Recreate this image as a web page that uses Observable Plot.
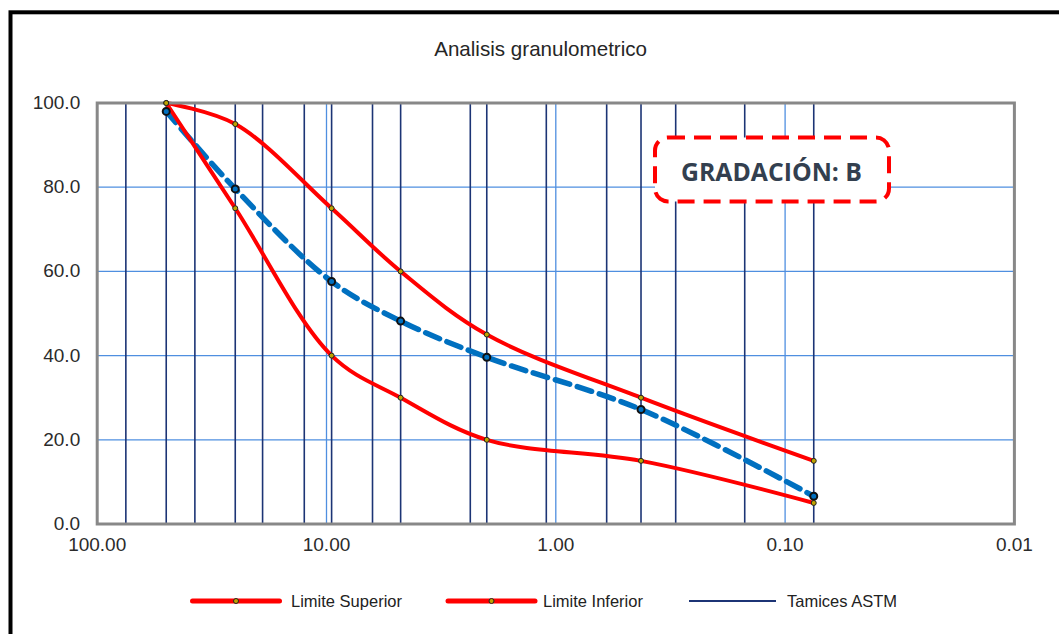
<!DOCTYPE html>
<html>
<head>
<meta charset="utf-8">
<script src="https://cdn.jsdelivr.net/npm/d3@7"></script>
<script src="https://cdn.jsdelivr.net/npm/@observablehq/plot@0.6"></script>
<style>
  html, body { margin: 0; padding: 0; background: #fff; overflow: hidden; }
  #wrap { position: relative; width: 1059px; height: 634px; overflow: hidden; }
  #chart svg { display: block; }
  #overlay { position: absolute; left: 0; top: 0; pointer-events: none; }
</style>
</head>
<body>
<div id="wrap">
  <div id="chart"></div>
  <svg id="overlay" width="1059" height="634"></svg>
</div>
<script>
// ASTM sieve openings (mm) drawn as vertical reference lines
const sieveSizes = [75, 50, 37.5, 25, 19, 12.5, 9.5, 6.3, 4.75, 2.36, 2.0, 1.1, 0.6, 0.425, 0.3, 0.15, 0.075];

// Gradation B band and measured sample (% passing)
const limitSizes = [50, 25, 9.5, 4.75, 2.0, 0.425, 0.075];
const upperLimit = [100, 95, 75, 60, 45, 30, 15];
const lowerLimit = [100, 75, 40, 30, 20, 15, 5];
const passing    = [98.0, 79.6, 57.6, 48.2, 39.6, 27.2, 6.6];

// Axis ticks
const xTicks = [100, 10, 1, 0.1, 0.01];
const yTicks = [0, 20, 40, 60, 80, 100];

const chartTitle = "Analisis granulometrico";
const boxLabel = "GRADACIÓN: B";
const legendItems = [
  {label: "Limite Superior", kind: "limit"},
  {label: "Limite Inferior", kind: "limit"},
  {label: "Tamices ASTM", kind: "sieve"}
];

const RED = "#ff0000";
const NAVY = "#1c3475";
const GRID = "#4f8fe0";
const SAMPLE = "#0070c0";

const rows = (ys) => limitSizes.map((s, i) => ({size: s, value: ys[i]}));
const upperRows = rows(upperLimit);
const lowerRows = rows(lowerLimit);
const sampleRows = rows(passing);

const plot = Plot.plot({
  width: 1059,
  height: 634,
  marginLeft: 96.7,
  marginRight: 45.1,
  marginTop: 102.5,
  marginBottom: 110.5,
  style: {fontFamily: "'Liberation Sans', Arial, sans-serif", fontSize: "19px", color: "#2b2b2b", background: "transparent"},
  x: {type: "log", domain: [100, 0.01], ticks: xTicks, tickFormat: d => d.toFixed(2), tickSize: 0, tickPadding: 13, label: null},
  y: {domain: [0, 100], ticks: yTicks, tickFormat: d => d.toFixed(1), tickSize: 0, tickPadding: 17, label: null},
  marks: [
    Plot.gridX(xTicks, {stroke: GRID, strokeOpacity: 1, strokeWidth: 1.3}),
    Plot.gridY(yTicks.slice(1, -1), {stroke: GRID, strokeOpacity: 1, strokeWidth: 1.3}),
    Plot.ruleX(sieveSizes, {y1: 0, y2: 100, stroke: NAVY, strokeWidth: 1.6}),
    Plot.line(sampleRows, {x: "size", y: "value", stroke: SAMPLE, strokeWidth: 5.5, strokeDasharray: "15,8", curve: "catmull-rom"}),
    Plot.line(upperRows, {x: "size", y: "value", stroke: RED, strokeWidth: 4, curve: "catmull-rom"}),
    Plot.line(lowerRows, {x: "size", y: "value", stroke: RED, strokeWidth: 4, curve: "catmull-rom"}),
    Plot.frame({stroke: "#888888", strokeWidth: 3}),
    Plot.dot(sampleRows, {x: "size", y: "value", r: 3.5, fill: SAMPLE, stroke: "#111", strokeWidth: 2}),
    Plot.dot(upperRows, {x: "size", y: "value", r: 2.5, fill: "#bfa300", stroke: "#222", strokeWidth: 1}),
    Plot.dot(lowerRows, {x: "size", y: "value", r: 2.5, fill: "#bfa300", stroke: "#222", strokeWidth: 1})
  ]
});
document.getElementById("chart").appendChild(plot);

// Title, outer frame, gradation badge and legend
const ov = d3.select("#overlay");
ov.append("rect")
  .attr("x", 10.5).attr("y", 12.3).attr("width", 2000).attr("height", 2000)
  .attr("fill", "none").attr("stroke", "#000").attr("stroke-width", 4);

ov.append("text")
  .attr("x", 540.6).attr("y", 56)
  .attr("text-anchor", "middle")
  .attr("font-family", "'Liberation Sans', Arial, sans-serif")
  .attr("font-size", 20.6)
  .attr("fill", "#262626")
  .text(chartTitle);

ov.append("rect")
  .attr("x", 655).attr("y", 137.5).attr("width", 234).attr("height", 64).attr("rx", 13)
  .attr("fill", "#fff").attr("stroke", RED).attr("stroke-width", 4)
  .attr("stroke-dasharray", "17,9");
ov.append("text")
  .attr("x", 771.5).attr("y", 181)
  .attr("text-anchor", "middle")
  .attr("font-family", "'Open Sans', sans-serif")
  .attr("font-weight", "bold")
  .attr("font-size", 24.8)
  .attr("fill", "#333f4f")
  .text(boxLabel);

const legendX = [192.5, 448, 689];
const legendTextX = [291, 543, 787];
const ly = 601;
legendItems.forEach((item, i) => {
  const x0 = legendX[i], x1 = x0 + 87;
  if (item.kind === "limit") {
    ov.append("line").attr("x1", x0).attr("x2", x1).attr("y1", ly).attr("y2", ly)
      .attr("stroke", RED).attr("stroke-width", 5).attr("stroke-linecap", "round");
    ov.append("circle").attr("cx", (x0 + x1) / 2).attr("cy", ly).attr("r", 2.5)
      .attr("fill", "#bfa300").attr("stroke", "#222").attr("stroke-width", 1);
  } else {
    ov.append("line").attr("x1", x0).attr("x2", x1).attr("y1", ly).attr("y2", ly)
      .attr("stroke", NAVY).attr("stroke-width", 2);
  }
  ov.append("text")
    .attr("x", legendTextX[i]).attr("y", ly + 6)
    .attr("font-family", "'Liberation Sans', Arial, sans-serif")
    .attr("font-size", 16.5)
    .attr("fill", "#222")
    .text(item.label);
});
</script>
</body>
</html>
